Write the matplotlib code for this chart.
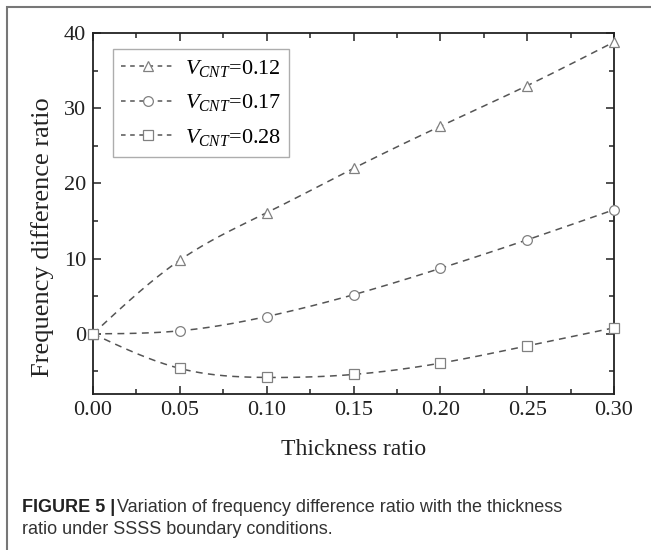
import numpy as np
import matplotlib
matplotlib.use("Agg")
import matplotlib.pyplot as plt
from matplotlib.patches import Rectangle
from matplotlib.ticker import MultipleLocator

# ---- data -------------------------------------------------------------
thickness_ratio = [0.00, 0.05, 0.10, 0.15, 0.20, 0.25, 0.30]
ratio_v012 = [0.0, 9.8, 16.1, 22.0, 27.6, 33.0, 38.8]
ratio_v017 = [0.0, 0.4, 2.3, 5.2, 8.7, 12.5, 16.5]
ratio_v028 = [0.0, -4.6, -5.8, -5.4, -3.9, -1.6, 0.8]
series_labels = ["$V_{CNT}$=0.12", "$V_{CNT}$=0.17", "$V_{CNT}$=0.28"]
series_markers = ["^", "o", "s"]
x_ticks = [0.00, 0.05, 0.10, 0.15, 0.20, 0.25, 0.30]
y_ticks = [0, 10, 20, 30, 40]


def natural_spline(x, y, n=300):
    """Smooth natural cubic spline through the given points."""
    x = np.asarray(x, float)
    y = np.asarray(y, float)
    k = len(x)
    h = np.diff(x)
    A = np.zeros((k, k))
    b = np.zeros(k)
    A[0, 0] = A[-1, -1] = 1.0
    for i in range(1, k - 1):
        A[i, i - 1] = h[i - 1]
        A[i, i] = 2 * (h[i - 1] + h[i])
        A[i, i + 1] = h[i]
        b[i] = 3 * ((y[i + 1] - y[i]) / h[i] - (y[i] - y[i - 1]) / h[i - 1])
    c = np.linalg.solve(A, b)
    bb = (y[1:] - y[:-1]) / h - h * (2 * c[:-1] + c[1:]) / 3
    d = (c[1:] - c[:-1]) / (3 * h)
    xs = np.linspace(x[0], x[-1], n)
    idx = np.clip(np.searchsorted(x, xs) - 1, 0, k - 2)
    dx = xs - x[idx]
    ys = y[idx] + bb[idx] * dx + c[idx] * dx ** 2 + d[idx] * dx ** 3
    return xs, ys


plt.rcParams["font.family"] = ["Liberation Serif", "DejaVu Serif"]
plt.rcParams["mathtext.fontset"] = "custom"
plt.rcParams["mathtext.rm"] = "Liberation Serif"
plt.rcParams["mathtext.it"] = "Liberation Serif:italic"

fig = plt.figure(figsize=(6.51, 5.50), dpi=100)
ax = fig.add_axes([93 / 651, 1 - 394 / 550, (614 - 93) / 651, (394 - 33) / 550])

line_color = "#555555"
marker_edge = "#808080"

handles = []
for vals, lab, mk in zip([ratio_v012, ratio_v017, ratio_v028], series_labels, series_markers):
    xs, ys = natural_spline(thickness_ratio, vals)
    ax.plot(xs, ys, linestyle=(0, (4.5, 3.5)), color=line_color, linewidth=1.1, zorder=2)
    ax.plot(thickness_ratio, vals, linestyle="none", marker=mk, markersize=7,
            markerfacecolor="white", markeredgecolor=marker_edge, markeredgewidth=0.9,
            zorder=3, clip_on=False)
    h, = ax.plot([], [], linestyle=(0, (3, 3)), color=line_color, linewidth=1.1,
                 marker=mk, markersize=7, markerfacecolor="white",
                 markeredgecolor=marker_edge, markeredgewidth=0.9, label=lab)
    handles.append(h)

ax.set_xlim(0, 0.30)
ax.set_ylim(-8, 40)
ax.set_xticks(x_ticks)
ax.set_xticklabels([f"{v:.2f}" for v in x_ticks])
ax.set_yticks(y_ticks)
ax.xaxis.set_minor_locator(MultipleLocator(0.025))
ax.yaxis.set_minor_locator(MultipleLocator(5))
ax.tick_params(which="both", direction="in", top=True, right=True,
               labelsize=16, width=1.1, color="#222222", labelcolor="#222222")
ax.tick_params(which="major", length=6, pad=5)
ax.tick_params(which="minor", length=3.5)
for sp in ax.spines.values():
    sp.set_linewidth(1.3)
    sp.set_color("#222222")

ax.set_xlabel("Thickness ratio", fontsize=17, labelpad=14, color="#222222")
ax.set_ylabel("Frequency difference ratio", fontsize=19, color="#222222")
ax.yaxis.set_label_coords(-0.075, 0.435)

leg = ax.legend(handles=handles, loc="upper left", bbox_to_anchor=(0.038, 0.955),
                fontsize=16, frameon=True, fancybox=False, handlelength=2.4,
                handletextpad=0.45, labelspacing=0.62, borderpad=0.38,
                borderaxespad=0)
leg.get_frame().set_edgecolor("#999999")
leg.get_frame().set_linewidth(1.0)

# outer frame around the figure panel
fig.add_artist(Rectangle((7 / 651, -0.1), 1.2, 1 - 7 / 550 + 0.1,
                         transform=fig.transFigure, fill=False,
                         edgecolor="#777777", linewidth=1.5))

# caption
cap_font = ["Liberation Sans", "DejaVu Sans"]
fig.text(22 / 651, 1 - 507 / 550, "FIGURE 5 |", family=cap_font, fontsize=13,
         fontweight="bold", color="#222222", va="center", ha="left")
fig.text(117 / 651, 1 - 507 / 550,
         "Variation of frequency difference ratio with the thickness",
         family=cap_font, fontsize=13, color="#333333", va="center", ha="left")
fig.text(22 / 651, 1 - 530 / 550, "ratio under SSSS boundary conditions.",
         family=cap_font, fontsize=13, color="#333333", va="center", ha="left")

fig.savefig("out.png", dpi=100)
